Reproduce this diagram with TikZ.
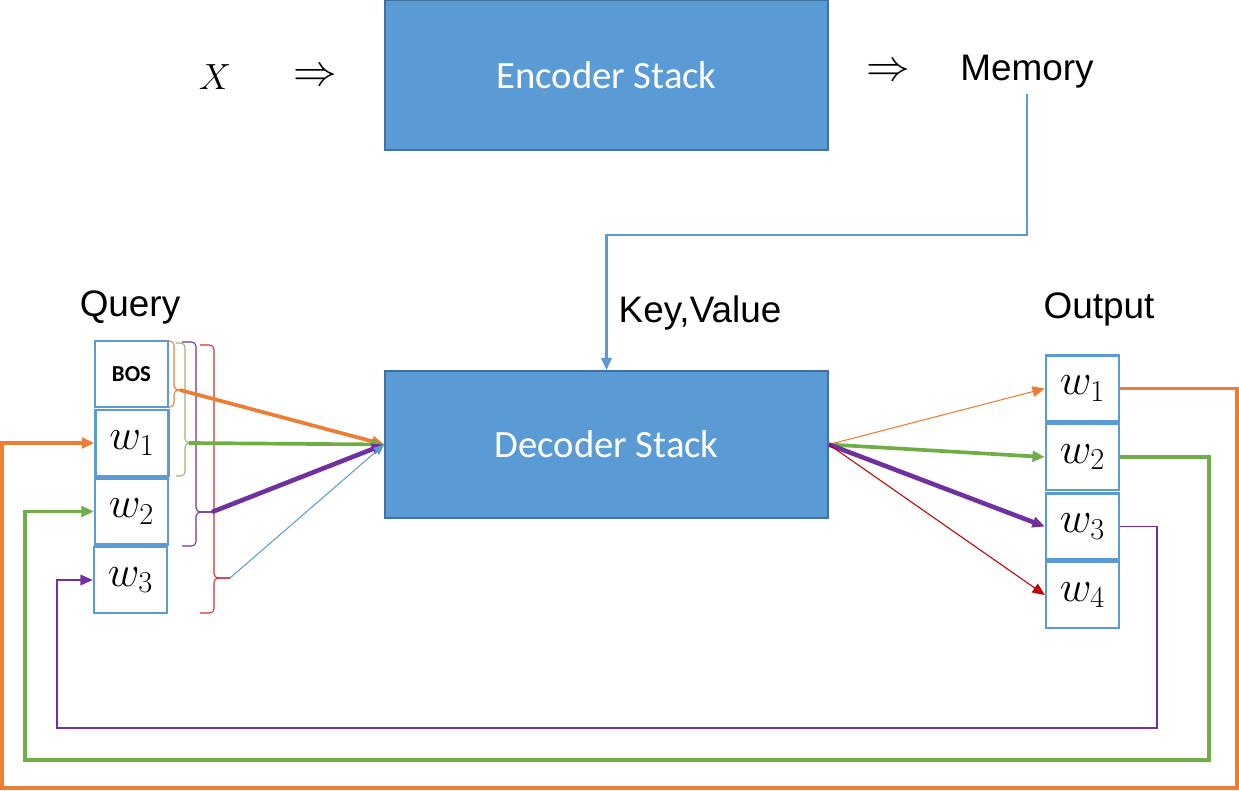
\documentclass[tikz,border=0pt]{standalone}
\usepackage{fontspec}
\setmainfont{Liberation Sans}
\newfontfamily\calib{Carlito}
\usetikzlibrary{arrows.meta}
\definecolor{cblue}{HTML}{5B9BD5}
\definecolor{cdblue}{HTML}{41719C}
\definecolor{corange}{HTML}{ED7D31}
\definecolor{cgreen}{HTML}{70AD47}
\definecolor{cpurple}{HTML}{7030A0}
\definecolor{cred}{HTML}{C00000}
\newcommand{\qbrace}[7]{%
  \draw[#1, line width=0.6pt, rounded corners=2.5pt] (#2,#4) -- (#3,#4) -- (#3,#5) -- (#7,#5);
  \draw[#1, line width=0.6pt, rounded corners=2.5pt] (#7,#5) -- (#3,#5) -- (#3,#6) -- (#2,#6);}
\begin{document}
\begin{tikzpicture}[x=0.02cm,y=-0.02cm,
  bigbox/.style={draw=cdblue, line width=1pt, fill=cblue, minimum width=8.86cm, text=white, font=\calib\fontsize{22}{26}\selectfont},
  wbox/.style={draw=cblue, line width=1.4pt, fill=white, minimum width=1.46cm, minimum height=1.32cm, inner sep=0pt, font=\fontsize{24}{28}\selectfont},
  lbl/.style={font=\fontsize{21}{25}\selectfont, inner sep=1pt},
  tip/.style={-{Triangle[length=7pt,width=6pt]}},
  thick3/.style={line width=2.1pt},
  thin1/.style={line width=0.6pt}]
\useasboundingbox (0,0) rectangle (1239,790);

% top row
\node[bigbox, minimum height=3.0cm] (enc) at (606.5,75) {Encoder Stack};
\node (xin) at (215,77) {\fontsize{22}{26}\selectfont$X$};
\node (ar1) at (315,77) {\fontsize{24}{28}\selectfont$\Rightarrow$};
\node (ar2) at (888,72) {\fontsize{24}{28}\selectfont$\Rightarrow$};
\node[lbl, inner sep=3pt] (mem) at (1027,72) {Memory};

% decoder
\node[bigbox, minimum height=2.94cm] (dec) at (606.5,444.5) {Decoder Stack};
\node[lbl] (kv) at (700,313) {Key,Value};
\node[lbl] (query) at (130,307) {Query};
\node[lbl] (output) at (1099,309) {Output};

\coordinate (turn) at (1027,235);
\draw[cblue, line width=1.4pt, tip] (mem.south) -- (turn) -| (dec.north);

% left boxes
\node[wbox] (bos) at (131.5,374) {\calib\bfseries\fontsize{13}{15}\selectfont BOS};
\node[wbox] (q1) at (132,443) {$w_1$};
\node[wbox] (q2) at (131.5,511.5) {$w_2$};
\node[wbox] (q3) at (130.5,580) {$w_3$};

% right boxes
\node[wbox] (o1) at (1082.5,388.5) {$w_1$};
\node[wbox] (o2) at (1082.5,457) {$w_2$};
\node[wbox] (o3) at (1082.5,526.5) {$w_3$};
\node[wbox] (o4) at (1082.5,595) {$w_4$};

% braces
\qbrace{corange}{170}{174}{341}{390}{407}{180}
\qbrace{cgreen!80}{176}{185}{343}{443}{476}{189}
\qbrace{cpurple}{182}{196}{342}{512}{546}{212}
\qbrace{cred!80}{200}{214}{345}{578}{613}{230}
\coordinate (tO) at (180,390);
\coordinate (tG) at (189,443);
\coordinate (tP) at (212,512);
\coordinate (tR) at (230,578);

% into decoder
\draw[corange, thick3, tip] (tO) -- (dec.west);
\draw[cgreen, thick3, tip] (tG) -- (dec.west);
\draw[cpurple, line width=2.6pt, tip] (tP) -- (dec.west);
\draw[cblue, thin1, -{Triangle[length=6pt,width=5pt]}] (tR) -- (dec.west);

% out of decoder
\draw[corange, thin1, tip] (dec.east) -- (o1.west);
\draw[cgreen, thick3, tip] (dec.east) -- (o2.west);
\draw[cpurple, line width=2.6pt, tip] (dec.east) -- (o3.west);
\draw[cred, thin1, tip] (dec.east) -- (o4.west);

% feedback loops
\draw[corange, thick3, tip] (o1.east) -| (1237,788) -| (2,443) -- (q1.west);
\draw[cgreen, thick3, tip] (o2.east) -| (1209,760) -| (25,511.5) -- (q2.west);
\draw[cpurple, line width=0.8pt, tip] (o3.east) -| (1157,728) -| (57,580) -- (q3.west);
\end{tikzpicture}
\end{document}
